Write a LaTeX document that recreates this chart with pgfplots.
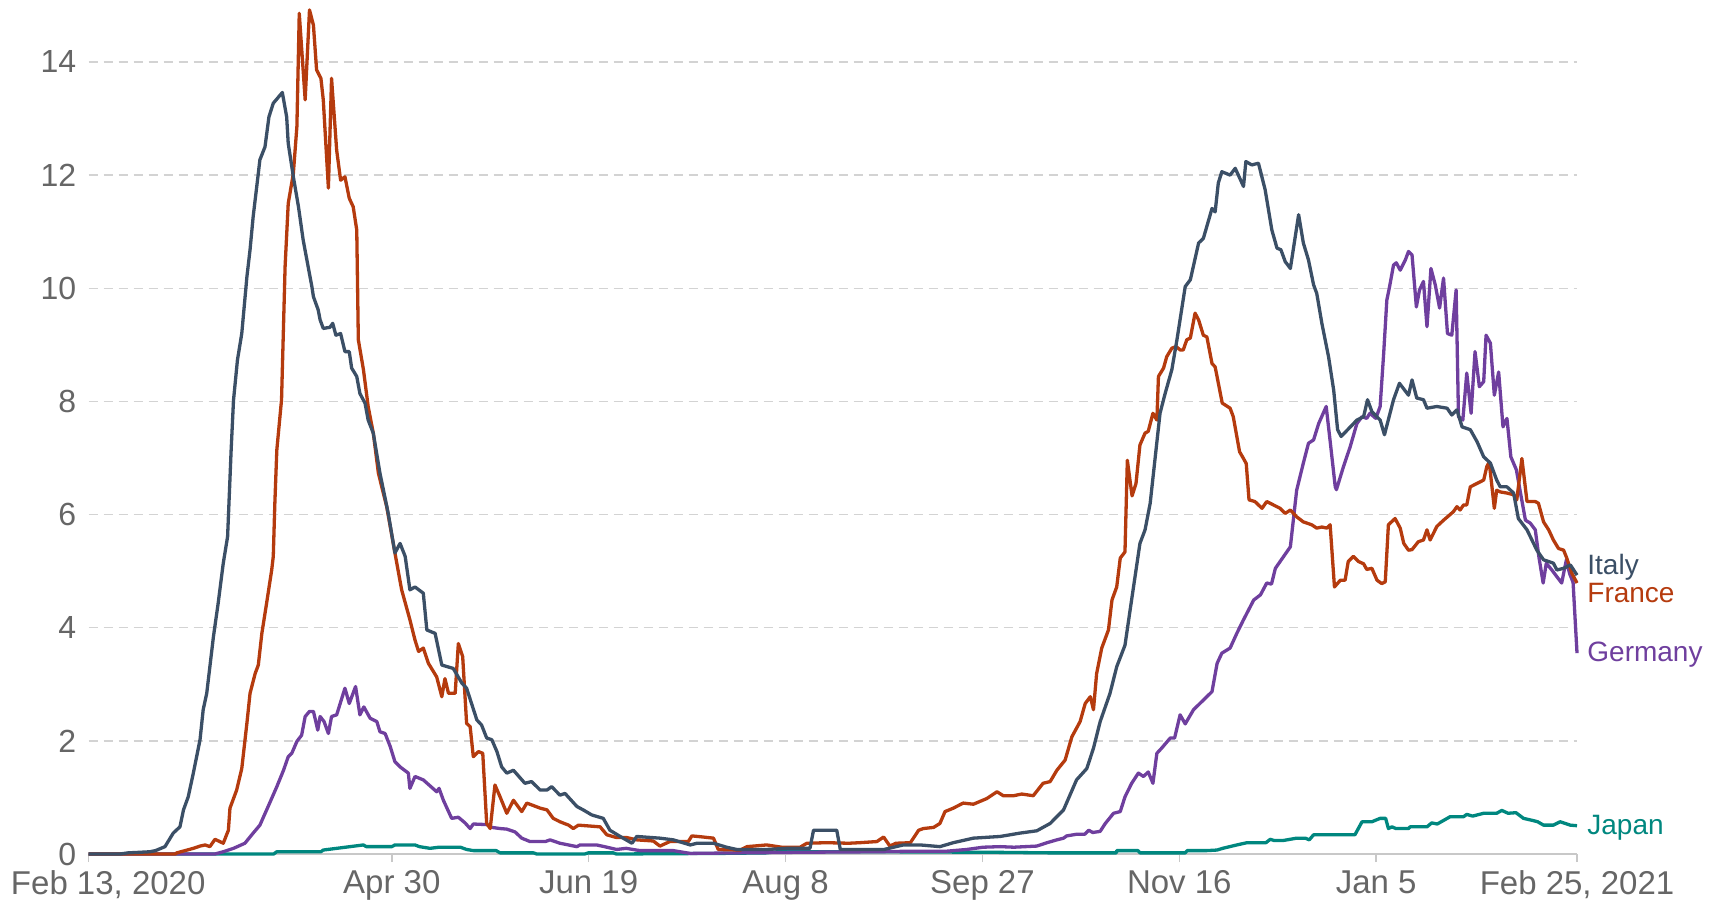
\documentclass[border=0pt]{standalone}
\usepackage{pgfplots}
\pgfplotsset{compat=1.18}
\usepackage{fontspec}
\setmainfont{Liberation Sans}
\definecolor{italyc}{HTML}{3B4F66}
\definecolor{francec}{HTML}{B53B0E}
\definecolor{germanyc}{HTML}{6F3F9E}
\definecolor{japanc}{HTML}{00877F}
\definecolor{textgray}{HTML}{666666}
\definecolor{gridgray}{HTML}{D3D3D3}
\definecolor{axisgray}{HTML}{C8C8C8}
\begin{document}
\begin{tikzpicture}
\path[use as bounding box] (-44.3pt,-24.5pt) rectangle (813.7pt,427pt);
\begin{axis}[
  at={(0,0)}, anchor=south west,
  scale only axis, width=744.2pt, height=424.3pt,
  xmin=0, xmax=378, ymin=0, ymax=15,
  clip=false,
  axis x line*=bottom, axis y line*=left,
  y axis line style={draw=none},
  x axis line style={draw=axisgray, line width=0.8pt},
  tick align=outside, major tick length=4pt,
  xtick={0,77,127,177,227,277,327,378},
  xticklabels={{\makebox[0pt][l]{\hspace*{-38.8pt}Feb 13, 2020}},Apr 30,Jun 19,Aug 8,Sep 27,Nov 16,Jan 5,{Feb 25, 2021}},
  xtick style={draw=axisgray, line width=0.8pt},
  ytick={0,2,4,6,8,10,12,14},
  ytick style={draw=none},
  ymajorgrids,
  grid style={draw=gridgray, line width=0.75pt, dash pattern=on 4.5pt off 3pt},
  xticklabel style={font=\fontsize{16.5}{16.5}\selectfont, text=textgray, inner sep=0pt, yshift=-4.1pt},
  yticklabel style={font=\fontsize{16}{16}\selectfont, text=textgray, inner sep=0pt, xshift=-2pt, /pgf/number format/assume math mode=true},
  every axis plot/.append style={line width=1.65pt, line join=round, mark=none},
]
% Japan
\addplot[japanc] coordinates {
(0,0) (47,0) (47.8,0.04) (59,0.04) (59.6,0.07) (63,0.1) (66.4,0.13) (69.8,0.16) (70.5,0.13) (77,0.13) (77.8,0.16) (82.9,0.16) (84,0.13) (86.7,0.1) (89,0.12) (94.4,0.12) (96,0.08) (97.7,0.06) (103.5,0.06) (104.5,0.02) (113,0.02) (113.8,0) (126,0) (126.9,0.02) (133.3,0.02) (134,0) (160,0.01) (172,0.02) (175,0.04) (200,0.04) (230,0.03) (244,0.02) (261,0.02) (261.1,0.06) (266.5,0.06) (267,0.02) (278.5,0.02) (279,0.06) (284,0.06) (286.6,0.07) (288,0.1) (291.6,0.16) (294.2,0.2) (299,0.2) (300.1,0.26) (301,0.24) (303.5,0.24) (306.8,0.28) (309,0.28) (310,0.25) (311.1,0.34) (321.6,0.34) (323.4,0.57) (325.9,0.57) (328,0.63) (329.4,0.63) (330.1,0.45) (331,0.48) (332,0.45) (335.2,0.45) (335.6,0.48) (339.9,0.48) (341.1,0.55) (342.5,0.53) (345.8,0.66) (349.2,0.66) (350,0.7) (351.5,0.67) (354.3,0.72) (357.6,0.72) (358.9,0.77) (360.5,0.72) (362.5,0.73) (364.4,0.63) (366.9,0.59) (368,0.57) (369.5,0.51) (372,0.51) (373.7,0.57) (376.3,0.51) (378,0.5)
};
% Germany
\addplot[germanyc] coordinates {
(0,0) (32.1,0) (34.2,0.04) (36.8,0.1) (39.7,0.19) (41.8,0.37) (43.5,0.51) (45.6,0.84) (47.8,1.19) (49.5,1.48) (50.7,1.72) (51.6,1.78) (52.9,1.99) (54.1,2.1) (55,2.43) (56.1,2.52) (57.1,2.52) (58.2,2.19) (58.8,2.43) (59.8,2.34) (60.9,2.13) (61.7,2.43) (63,2.46) (65.1,2.93) (66.2,2.66) (67.8,2.96) (68.9,2.46) (69.9,2.6) (71.5,2.4) (73.2,2.34) (74,2.16) (75.3,2.13) (76.6,1.9) (77.8,1.63) (79.1,1.54) (81.2,1.43) (81.6,1.16) (82.9,1.37) (85,1.31) (88.4,1.1) (89,1.16) (90.1,0.95) (92.2,0.63) (93.9,0.65) (95.6,0.55) (96.9,0.45) (97.7,0.53) (101.1,0.52) (102.4,0.47) (104.5,0.45) (106.2,0.44) (108.3,0.39) (110,0.28) (112.1,0.22) (116,0.22) (117.2,0.25) (119.7,0.19) (124,0.13) (124.8,0.16) (129,0.16) (131,0.13) (134.1,0.08) (136.5,0.1) (140,0.06) (148.5,0.06) (152.8,0.01) (165,0.02) (180,0.03) (200,0.04) (210,0.05) (218,0.05) (223,0.08) (227.2,0.12) (231.5,0.13) (235,0.12) (240.8,0.14) (243.4,0.2) (245.9,0.25) (247.6,0.28) (248.4,0.32) (251,0.35) (253,0.35) (254,0.42) (255,0.38) (256.9,0.4) (258.2,0.54) (260.3,0.72) (262,0.75) (263.2,1.01) (264.9,1.25) (266.6,1.43) (267.9,1.37) (269.1,1.45) (270.3,1.25) (271.3,1.78) (272.5,1.87) (274.7,2.05) (275.8,2.05) (277.2,2.46) (278.5,2.3) (280.6,2.55) (283.1,2.72) (285.3,2.87) (286.6,3.37) (287.8,3.55) (289.9,3.64) (291.6,3.9) (293.3,4.14) (295.9,4.49) (297.6,4.58) (299.2,4.79) (300.4,4.77) (301.4,5.05) (303.5,5.26) (305.2,5.43) (306.8,6.43) (308.5,6.91) (309.8,7.26) (311.1,7.32) (312.4,7.61) (314.3,7.91) (315.3,7.3) (316.6,6.49) (316.9,6.44) (318.7,6.85) (320.4,7.2) (322.1,7.61) (323.4,7.73) (324.6,7.7) (325.4,7.79) (326.9,7.7) (328,7.91) (328.9,8.85) (329.7,9.79) (330.4,10.03) (331.4,10.41) (332.1,10.45) (333.1,10.32) (334.4,10.5) (335.2,10.65) (336.1,10.59) (337.2,9.67) (338,9.97) (339,10.12) (339.9,9.32) (340.9,10.35) (342,10.06) (343.1,9.65) (344.1,10.18) (345.1,9.2) (346.2,9.17) (347.3,9.97) (347.9,7.73) (349,7.67) (350,8.5) (351.1,7.79) (352.1,8.88) (353.2,8.26) (354.3,8.35) (354.9,9.17) (356,9.03) (357,8.11) (358.1,8.52) (359.2,7.55) (360.2,7.7) (361.2,7.02) (362.6,6.79) (363.6,6.4) (364.9,5.9) (366.1,5.85) (367.4,5.73) (368.3,5.26) (369.4,4.79) (370.2,5.14) (371.6,5.02) (372.9,4.9) (374.1,4.79) (375.3,5.2) (376.1,4.96) (377,4.8) (378,3.55)
};
% France
\addplot[francec] coordinates {
(0,0) (22,0) (22.4,0.02) (26.6,0.1) (28.3,0.14) (29.6,0.16) (30.8,0.13) (32.1,0.26) (34.2,0.19) (35.5,0.42) (35.9,0.81) (37.6,1.13) (38.9,1.51) (40.2,2.31) (41,2.84) (42.3,3.19) (43.1,3.34) (44,3.9) (45.2,4.43) (46.5,5.02) (46.9,5.26) (47.3,6.2) (47.8,7.14) (49,8.03) (49.9,10.38) (50.7,11.5) (52,12.03) (52.9,12.86) (53.5,14.86) (55,13.33) (56.1,14.92) (57.1,14.65) (57.9,13.86) (59,13.71) (59.6,13.33) (60.9,11.77) (61.7,13.71) (63,12.44) (64,11.91) (65.1,11.97) (66.2,11.59) (67.2,11.44) (68.1,11.03) (68.5,9.09) (69.8,8.56) (71,7.91) (72.3,7.44) (73.6,6.73) (75.7,6.14) (77.8,5.32) (79.5,4.67) (81.6,4.14) (82.9,3.78) (83.8,3.58) (85,3.64) (86.3,3.37) (88.4,3.13) (89.7,2.78) (90.5,3.1) (91.4,2.84) (93.1,2.84) (93.9,3.72) (95,3.49) (96,2.31) (96.9,2.25) (97.7,1.72) (99,1.81) (100.1,1.78) (101.1,0.54) (102,0.45) (103.2,1.22) (104.5,1.01) (106.2,0.72) (107.9,0.95) (110,0.75) (111.3,0.9) (114.7,0.81) (116.4,0.78) (118,0.63) (119.7,0.57) (121.9,0.51) (123.1,0.45) (124.4,0.51) (129.9,0.48) (131.6,0.34) (134.1,0.29) (136.7,0.29) (139.2,0.25) (143.4,0.23) (145.1,0.14) (147.6,0.22) (152.3,0.22) (153.2,0.32) (156.1,0.3) (158.7,0.28) (159.9,0.08) (165.5,0.07) (167.2,0.13) (172.2,0.16) (176,0.12) (180.7,0.12) (182.4,0.19) (187.5,0.2) (193,0.19) (195.9,0.2) (200.2,0.22) (201.9,0.3) (203.5,0.14) (205,0.19) (208.7,0.2) (210.8,0.42) (212,0.45) (214.6,0.47) (216.2,0.54) (217.5,0.75) (219.6,0.81) (222.1,0.9) (224.7,0.88) (228.1,0.98) (230.7,1.1) (232.3,1.03) (234.9,1.03) (237,1.06) (239.9,1.03) (242.4,1.25) (244.2,1.28) (245.9,1.48) (248,1.66) (249.7,2.07) (251.8,2.34) (253.1,2.66) (254.4,2.78) (255.2,2.55) (256,3.19) (257.3,3.64) (259,3.96) (259.9,4.49) (261.1,4.72) (262,5.23) (263.2,5.34) (263.8,6.96) (265,6.33) (266,6.55) (267,7.23) (268.3,7.44) (269.1,7.47) (270.3,7.79) (271.3,7.67) (271.7,8.44) (273,8.59) (273.8,8.79) (275.1,8.94) (276.2,8.97) (277.2,8.91) (278,8.91) (278.9,9.09) (279.8,9.12) (281,9.56) (281.9,9.44) (283.1,9.17) (284,9.14) (285.3,8.67) (286.1,8.61) (287,8.29) (287.9,7.97) (289.9,7.88) (290.7,7.73) (292.3,7.11) (293.3,6.99) (294,6.9) (294.7,6.26) (296.2,6.23) (298,6.11) (299.2,6.23) (300.9,6.17) (302.6,6.11) (303.9,6.02) (305.2,6.08) (306.8,5.96) (308.5,5.87) (310.6,5.82) (311.9,5.76) (313.2,5.78) (314.5,5.76) (315.3,5.82) (316.4,4.72) (317.9,4.84) (319.1,4.84) (319.9,5.17) (321.2,5.26) (322.5,5.17) (323.8,5.13) (324.6,5.03) (325.9,5.05) (327.2,4.84) (328.4,4.78) (329.3,4.81) (330.1,5.82) (331.8,5.93) (333.1,5.76) (334,5.49) (335.2,5.37) (336.1,5.38) (337.7,5.52) (339,5.55) (339.9,5.73) (340.7,5.55) (342.4,5.79) (344.1,5.9) (346.6,6.05) (347.5,6.14) (348.3,6.08) (349.2,6.17) (350,6.17) (350.9,6.49) (352.6,6.55) (354.3,6.61) (355.1,6.85) (355.7,6.93) (357,6.11) (357.6,6.43) (358.5,6.4) (360.2,6.38) (361.9,6.35) (362.7,6.26) (364,6.99) (365.3,6.23) (367.4,6.23) (368.2,6.2) (369.5,5.87) (370.8,5.73) (372,5.55) (373.3,5.4) (374.6,5.37) (375.4,5.23) (376.7,4.96) (378,4.79)
};
% Italy
\addplot[italyc] coordinates {
(0,0) (8,0) (10,0.02) (13,0.03) (15.6,0.04) (17,0.06) (19.4,0.13) (21.5,0.37) (23.2,0.48) (24.1,0.78) (25.3,1.01) (26.6,1.43) (28.3,2.02) (29.1,2.55) (30,2.84) (31.7,3.84) (32.9,4.43) (34.2,5.14) (35.3,5.61) (36.2,7.14) (36.8,8.02) (37.8,8.73) (38.9,9.2) (40.2,10.2) (41,10.68) (41.8,11.27) (43.1,12.03) (43.5,12.27) (44.8,12.5) (45.8,13.03) (46.9,13.27) (49.2,13.46) (50.3,13.03) (50.7,12.56) (52,11.97) (53.3,11.44) (54.5,10.85) (56.7,10.03) (57.1,9.85) (58.3,9.62) (58.8,9.44) (59.6,9.29) (61.3,9.31) (62,9.38) (62.8,9.17) (64,9.2) (65.1,8.88) (66.2,8.88) (66.8,8.59) (68.1,8.44) (68.9,8.14) (70.2,7.97) (71,7.67) (72.3,7.44) (74,6.73) (76.1,6.02) (77.8,5.32) (79.1,5.49) (80.4,5.26) (81.6,4.67) (82.9,4.72) (85,4.61) (85.9,3.96) (88,3.9) (89.7,3.34) (92.6,3.28) (94.8,3.02) (96,2.93) (98.6,2.37) (99.8,2.28) (101.1,2.05) (102.4,2.02) (103.7,1.81) (104.9,1.54) (106.2,1.43) (107.9,1.48) (110.8,1.25) (112.5,1.28) (114.7,1.13) (116.4,1.13) (117.6,1.19) (119.7,1.04) (121,1.07) (124,0.84) (125.6,0.78) (127.8,0.69) (130.7,0.63) (132.4,0.42) (135,0.31) (138,0.19) (139.2,0.31) (145.1,0.28) (148.5,0.25) (152.8,0.16) (154.5,0.19) (158.7,0.19) (162,0.12) (164.6,0.08) (172.2,0.08) (177.3,0.1) (183.2,0.1) (184.1,0.42) (190,0.42) (190.9,0.08) (202,0.08) (206.9,0.16) (211.2,0.16) (216.2,0.13) (219.6,0.2) (224.7,0.28) (231.5,0.31) (236.6,0.37) (240.8,0.41) (244.2,0.54) (247.6,0.78) (250.9,1.31) (253.5,1.51) (255.2,1.87) (256.9,2.34) (259.4,2.84) (261.1,3.31) (263.2,3.69) (264.5,4.31) (267,5.49) (268.3,5.73) (269.6,6.2) (272.1,7.79) (273.4,8.14) (275.1,8.56) (276.4,9.09) (278.5,10.03) (279.8,10.15) (281.9,10.8) (283.1,10.88) (285.3,11.41) (286.1,11.35) (286.9,11.86) (287.8,12.06) (289.9,12.0) (291.2,12.12) (293.3,11.8) (293.9,12.24) (295.4,12.18) (297.1,12.21) (298.8,11.74) (300.5,11.03) (301.8,10.71) (302.8,10.68) (303.9,10.47) (305.2,10.35) (307.3,11.3) (308.5,10.8) (309.8,10.5) (311.1,10.06) (311.9,9.91) (313.2,9.38) (314.9,8.79) (316.2,8.2) (317.2,7.5) (318.1,7.38) (322.1,7.67) (323.8,7.73) (324.8,8.03) (325.9,7.82) (328,7.67) (329.1,7.41) (331.4,8.03) (332.9,8.32) (335.2,8.11) (336.1,8.38) (337.3,8.06) (339,8.03) (339.9,7.88) (342.4,7.91) (345,7.88) (346.2,7.76) (347.5,7.85) (348.8,7.55) (350.9,7.5) (352.6,7.29) (354.3,7.02) (356,6.91) (357.6,6.61) (358.5,6.49) (360.2,6.49) (361.9,6.38) (363.1,5.93) (365.3,5.73) (367.8,5.37) (369.5,5.2) (370.8,5.17) (372,5.14) (372.9,5.02) (374.6,5.05) (376.3,5.11) (378,4.93)
};
\node[anchor=base west, inner sep=0pt, xshift=5pt, text=italyc, font=\fontsize{14}{14}\selectfont] at (axis cs:378,4.94) {Italy};
\node[anchor=base west, inner sep=0pt, xshift=5pt, text=francec, font=\fontsize{14}{14}\selectfont] at (axis cs:378,4.44) {France};
\node[anchor=base west, inner sep=0pt, xshift=5pt, text=germanyc, font=\fontsize{14}{14}\selectfont] at (axis cs:378,3.41) {Germany};
\node[anchor=base west, inner sep=0pt, xshift=5pt, text=japanc, font=\fontsize{14}{14}\selectfont] at (axis cs:378,0.34) {Japan};
\end{axis}
\end{tikzpicture}
\end{document}
